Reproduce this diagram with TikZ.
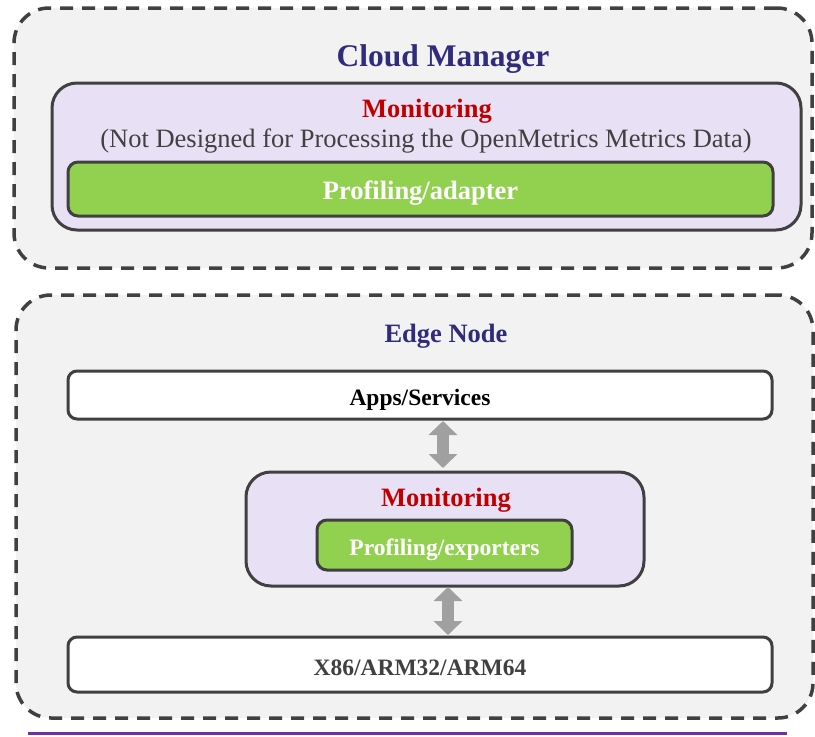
\documentclass[tikz,border=0pt]{standalone}
\usepackage{fontspec}
\setmainfont{Liberation Serif}
\usetikzlibrary{arrows.meta}

\definecolor{framegray}{HTML}{404040}
\definecolor{panelgray}{HTML}{F2F2F2}
\definecolor{lavender}{HTML}{E8E0F4}
\definecolor{leafgreen}{HTML}{92D050}
\definecolor{titleblue}{HTML}{312B7B}
\definecolor{monred}{HTML}{C00000}
\definecolor{arrowgray}{HTML}{A0A0A0}
\definecolor{rulepurple}{HTML}{7030A0}

\tikzset{
  zone/.style={draw=framegray, fill=panelgray, line width=3.5pt, dash pattern=on 13pt off 9pt, rounded corners=35pt},
  monbox/.style={draw=framegray, fill=lavender, line width=3pt, rounded corners=25pt},
  leafbox/.style={draw=framegray, fill=leafgreen, line width=3pt, rounded corners=10pt, text=white, text height=20pt, text depth=0pt, font=\bfseries\fontsize{26.5}{30}\selectfont},
  layerbox/.style={draw=framegray, fill=white, line width=3pt, rounded corners=9pt, text height=20pt, text depth=0pt, font=\bfseries\fontsize{23.5}{28}\selectfont},
  biarrow/.style={draw=arrowgray, line width=12pt, {Triangle[width=28pt,length=14pt]}-{Triangle[width=28pt,length=14pt]}}
}

\begin{document}
\begin{tikzpicture}[x=1pt, y=-1pt, inner sep=0pt, outer sep=0pt]
    \useasboundingbox (0,0) rectangle (815,737);
    % cloud side
    \node[zone, minimum width=798pt, minimum height=260pt] (cloud) at (413,138) {};
    \node[anchor=base, text=titleblue, font=\bfseries\fontsize{31.5}{36}\selectfont] (cloudtitle) at (443,66) {Cloud Manager};
    \node[monbox, minimum width=749pt, minimum height=147pt] (mon1) at (426.5,156.5) {};
    \node[anchor=base, text=monred, font=\bfseries\fontsize{26.5}{30}\selectfont] (mon1title) at (427,117) {Monitoring};
    \node[anchor=base, text=framegray, font=\fontsize{26.5}{30}\selectfont] (mon1note) at (426,147) {(Not Designed for Processing the OpenMetrics Metrics Data)};
    \node[leafbox, minimum width=705pt, minimum height=54pt] (adapter) at (420.5,189) {Profiling/adapter};
    % edge side
    \node[zone, minimum width=797pt, minimum height=423pt] (edge) at (414.5,506.5) {};
    \node[anchor=base, text=titleblue, font=\bfseries\fontsize{26.5}{30}\selectfont] (edgetitle) at (446,342) {Edge Node};
    \node[layerbox, minimum width=704pt, minimum height=48pt] (apps) at (420,395) {Apps/Services};
    \node[monbox, minimum width=398pt, minimum height=114pt] (mon2) at (445,529) {};
    \node[anchor=base, text=monred, font=\bfseries\fontsize{26.5}{30}\selectfont] (mon2title) at (446,506) {Monitoring};
    \node[leafbox, minimum width=255pt, minimum height=50pt, font=\bfseries\fontsize{23.5}{28}\selectfont] (exporters) at (444.5,545) {Profiling/exporters};
    \node[layerbox, minimum width=704pt, minimum height=55pt, text height=21pt, text=framegray] (hw) at (420,664.5) {X86/ARM32/ARM64};
    \draw[biarrow, shorten <=2pt, shorten >=4pt] (apps.south -| 443,0) -- (mon2.north -| 443,0);
    \draw[biarrow, shorten <=1pt, shorten >=2pt] (mon2.south -| 448,0) -- (hw.north -| 448,0);
    % bottom rule
    \draw[rulepurple, line width=3pt] (28,733) -- (787,733);
\end{tikzpicture}
\end{document}
